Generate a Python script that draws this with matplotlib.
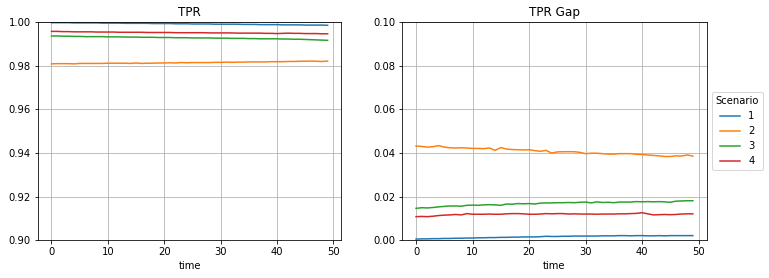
import numpy as np
import matplotlib.pyplot as plt

# time steps
time = np.arange(50)
scenarios = ["1", "2", "3", "4"]
colors = ["#1f77b4", "#ff7f0e", "#2ca02c", "#d62728"]

# TPR per scenario
tpr_1 = [0.9998, 0.9998, 0.9998, 0.9998, 0.9997, 0.9997, 0.9997, 0.9997, 0.9997, 0.9996,
         0.9996, 0.9996, 0.9996, 0.9995, 0.9995, 0.9995, 0.9995, 0.9995, 0.9994, 0.9994,
         0.9994, 0.9994, 0.9993, 0.9993, 0.9993, 0.9992, 0.9992, 0.9992, 0.9992, 0.9991,
         0.9991, 0.9991, 0.9991, 0.9991, 0.9990, 0.9990, 0.9990, 0.9989, 0.9989, 0.9989,
         0.9989, 0.9988, 0.9988, 0.9988, 0.9988, 0.9987, 0.9987, 0.9987, 0.9987, 0.9986]
tpr_2 = [0.9809, 0.9810, 0.9810, 0.9810, 0.9809, 0.9811, 0.9811, 0.9811, 0.9811, 0.9811,
         0.9812, 0.9812, 0.9812, 0.9812, 0.9811, 0.9813, 0.9811, 0.9812, 0.9812, 0.9813,
         0.9813, 0.9814, 0.9813, 0.9815, 0.9814, 0.9815, 0.9815, 0.9815, 0.9815, 0.9816,
         0.9816, 0.9817, 0.9816, 0.9817, 0.9817, 0.9818, 0.9818, 0.9818, 0.9818, 0.9819,
         0.9819, 0.9819, 0.9820, 0.9820, 0.9821, 0.9821, 0.9822, 0.9821, 0.9820, 0.9822]
tpr_3 = [0.9937, 0.9937, 0.9936, 0.9936, 0.9935, 0.9935, 0.9934, 0.9934, 0.9934, 0.9934,
         0.9933, 0.9933, 0.9933, 0.9932, 0.9932, 0.9932, 0.9931, 0.9931, 0.9931, 0.9930,
         0.9930, 0.9930, 0.9929, 0.9929, 0.9929, 0.9928, 0.9928, 0.9928, 0.9928, 0.9927,
         0.9927, 0.9927, 0.9926, 0.9926, 0.9926, 0.9925, 0.9925, 0.9924, 0.9924, 0.9924,
         0.9924, 0.9923, 0.9923, 0.9922, 0.9922, 0.9921, 0.9920, 0.9919, 0.9918, 0.9917]
tpr_4 = [0.9958, 0.9958, 0.9957, 0.9957, 0.9956, 0.9956, 0.9956, 0.9956, 0.9955, 0.9955,
         0.9955, 0.9955, 0.9954, 0.9954, 0.9954, 0.9954, 0.9954, 0.9953, 0.9953, 0.9953,
         0.9953, 0.9953, 0.9952, 0.9952, 0.9952, 0.9952, 0.9952, 0.9952, 0.9951, 0.9951,
         0.9951, 0.9951, 0.9951, 0.9950, 0.9950, 0.9950, 0.9950, 0.9950, 0.9949, 0.9949,
         0.9948, 0.9949, 0.9950, 0.9949, 0.9949, 0.9948, 0.9948, 0.9948, 0.9947, 0.9947]

# TPR gap per scenario
gap_1 = [0.0005, 0.0006, 0.0006, 0.0007, 0.0007, 0.0008, 0.0008, 0.0009, 0.0009, 0.0010,
         0.0010, 0.0011, 0.0011, 0.0012, 0.0012, 0.0013, 0.0013, 0.0014, 0.0014, 0.0015,
         0.0015, 0.0015, 0.0016, 0.0018, 0.0017, 0.0017, 0.0018, 0.0018, 0.0019, 0.0019,
         0.0019, 0.0019, 0.0019, 0.0020, 0.0020, 0.0020, 0.0021, 0.0021, 0.0020, 0.0021,
         0.0021, 0.0020, 0.0020, 0.0021, 0.0020, 0.0021, 0.0021, 0.0021, 0.0021, 0.0021]
gap_2 = [0.0432, 0.0430, 0.0427, 0.0429, 0.0434, 0.0427, 0.0424, 0.0423, 0.0424, 0.0423,
         0.0421, 0.0421, 0.0420, 0.0423, 0.0412, 0.0425, 0.0418, 0.0416, 0.0415, 0.0414,
         0.0415, 0.0411, 0.0408, 0.0412, 0.0400, 0.0405, 0.0406, 0.0406, 0.0406, 0.0403,
         0.0397, 0.0399, 0.0399, 0.0397, 0.0395, 0.0395, 0.0397, 0.0397, 0.0397, 0.0394,
         0.0393, 0.0391, 0.0389, 0.0387, 0.0384, 0.0384, 0.0387, 0.0386, 0.0391, 0.0386]
gap_3 = [0.0146, 0.0149, 0.0148, 0.0150, 0.0153, 0.0155, 0.0157, 0.0157, 0.0156, 0.0160,
         0.0161, 0.0160, 0.0162, 0.0163, 0.0162, 0.0160, 0.0166, 0.0165, 0.0168, 0.0167,
         0.0168, 0.0166, 0.0170, 0.0171, 0.0171, 0.0172, 0.0172, 0.0173, 0.0172, 0.0174,
         0.0175, 0.0171, 0.0176, 0.0173, 0.0174, 0.0172, 0.0175, 0.0175, 0.0175, 0.0177,
         0.0176, 0.0177, 0.0176, 0.0177, 0.0176, 0.0174, 0.0179, 0.0180, 0.0181, 0.0181]
gap_4 = [0.0108, 0.0109, 0.0108, 0.0110, 0.0113, 0.0115, 0.0116, 0.0118, 0.0116, 0.0122,
         0.0119, 0.0119, 0.0119, 0.0120, 0.0119, 0.0119, 0.0121, 0.0122, 0.0122, 0.0121,
         0.0119, 0.0119, 0.0120, 0.0122, 0.0121, 0.0122, 0.0122, 0.0120, 0.0121, 0.0120,
         0.0120, 0.0120, 0.0119, 0.0120, 0.0120, 0.0120, 0.0121, 0.0121, 0.0122, 0.0123,
         0.0126, 0.0121, 0.0116, 0.0117, 0.0118, 0.0117, 0.0118, 0.0120, 0.0121, 0.0121]

tpr = [tpr_1, tpr_2, tpr_3, tpr_4]
gap = [gap_1, gap_2, gap_3, gap_4]

# notebook-style output: 72 dpi, default font sizes
dpi = 72
fig = plt.figure(figsize=(769 / dpi, 278 / dpi), dpi=dpi)
ax1 = fig.add_axes([0.049, 0.136, 0.395, 0.784])
ax2 = fig.add_axes([0.523, 0.136, 0.396, 0.784])

for i in range(4):
    ax1.plot(time, tpr[i], color=colors[i], label=scenarios[i])
    ax2.plot(time, gap[i], color=colors[i], label=scenarios[i])

ax1.set_ylim(0.90, 1.00)
ax1.set_yticks([0.90, 0.92, 0.94, 0.96, 0.98, 1.00])
ax1.set_title('TPR')
ax1.set_xlabel('time')

ax2.set_ylim(0.0, 0.1)
ax2.set_yticks([0.00, 0.02, 0.04, 0.06, 0.08, 0.10])
ax2.set_title('TPR Gap')
ax2.set_xlabel('time')
ax2.legend(title='Scenario', loc='center left', bbox_to_anchor=(1.0, 0.5))

for ax in (ax1, ax2):
    ax.set_xticks([0, 10, 20, 30, 40, 50])
    ax.grid(True)
    ax.set_axisbelow(True)

fig.savefig('out.png', dpi=dpi)
